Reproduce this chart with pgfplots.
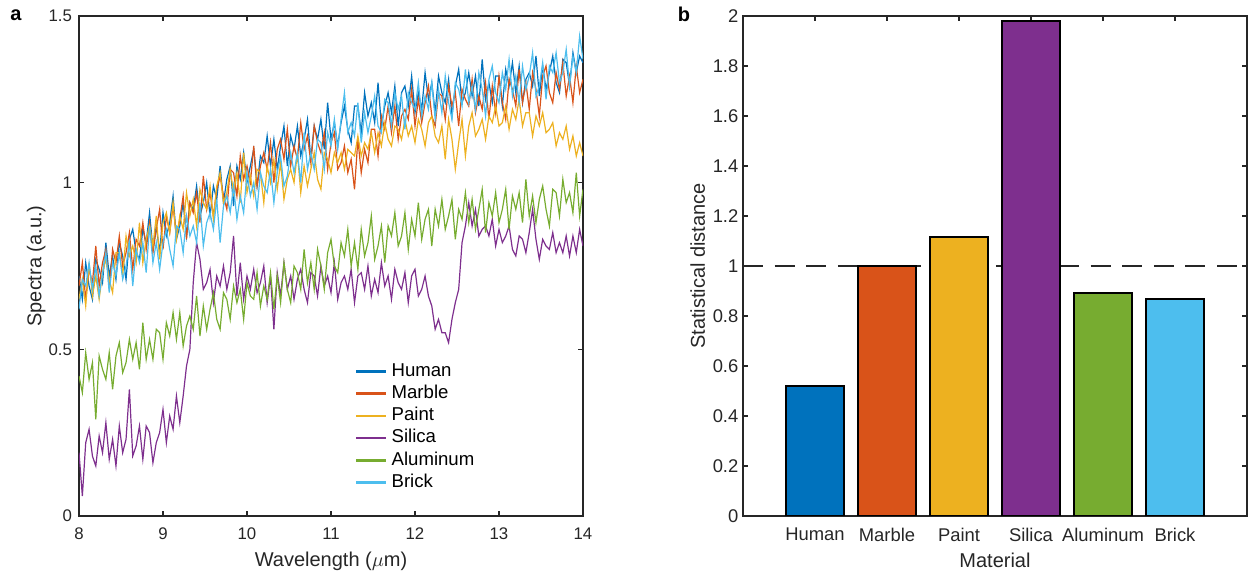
\documentclass[border=0pt]{standalone}
\usepackage{fontspec}
\setmainfont{Liberation Sans}
\usepackage{pgfplots}
\usepackage{pgfplotstable}
\pgfplotsset{compat=1.18}
\definecolor{cH}{HTML}{0072BD}
\definecolor{cM}{HTML}{D95319}
\definecolor{cP}{HTML}{EDB120}
\definecolor{cS}{HTML}{7E2F8E}
\definecolor{cA}{HTML}{77AC30}
\definecolor{cB}{HTML}{4DBEEE}
\definecolor{axgray}{HTML}{262626}

\pgfplotstableread{
x h m p s a b
8.00 0.72 0.69 0.65 0.19 0.42 0.62
8.04 0.65 0.76 0.71 0.06 0.37 0.71
8.08 0.76 0.65 0.63 0.22 0.49 0.69
8.12 0.69 0.74 0.76 0.26 0.41 0.76
8.16 0.65 0.70 0.66 0.18 0.46 0.68
8.20 0.77 0.81 0.72 0.15 0.29 0.75
8.24 0.74 0.69 0.65 0.24 0.48 0.66
8.28 0.70 0.76 0.73 0.19 0.44 0.73
8.32 0.82 0.80 0.77 0.28 0.41 0.79
8.36 0.72 0.68 0.71 0.17 0.49 0.67
8.40 0.78 0.80 0.67 0.23 0.38 0.76
8.44 0.71 0.76 0.79 0.15 0.48 0.72
8.48 0.82 0.84 0.79 0.27 0.52 0.79
8.52 0.78 0.75 0.72 0.19 0.43 0.71
8.56 0.71 0.79 0.84 0.23 0.46 0.75
8.60 0.83 0.85 0.78 0.38 0.53 0.82
8.64 0.86 0.74 0.81 0.18 0.47 0.69
8.68 0.79 0.83 0.76 0.21 0.52 0.80
8.72 0.77 0.81 0.88 0.27 0.44 0.76
8.76 0.86 0.88 0.76 0.17 0.58 0.82
8.80 0.82 0.80 0.83 0.27 0.47 0.73
8.84 0.91 0.88 0.87 0.25 0.53 0.87
8.88 0.80 0.79 0.81 0.16 0.47 0.76
8.92 0.87 0.86 0.90 0.22 0.56 0.82
8.96 0.79 0.92 0.77 0.25 0.55 0.74
9.00 0.91 0.80 0.88 0.32 0.47 0.82
9.04 0.84 0.90 0.91 0.22 0.58 0.86
9.08 0.88 0.85 0.85 0.30 0.54 0.80
9.12 0.96 0.93 0.94 0.26 0.61 0.75
9.16 0.83 0.84 0.83 0.36 0.53 0.87
9.20 0.87 0.89 0.90 0.28 0.61 0.86
9.24 0.94 0.96 0.86 0.36 0.51 0.79
9.28 0.84 0.83 0.97 0.45 0.57 0.90
9.32 0.94 0.94 0.90 0.50 0.60 0.84
9.36 0.92 0.91 0.95 0.70 0.56 0.87
9.40 0.99 0.97 0.87 0.82 0.66 0.82
9.44 0.90 0.88 0.98 0.77 0.54 0.94
9.48 0.94 1.02 0.94 0.68 0.63 0.81
9.52 1.00 0.92 0.92 0.70 0.56 0.88
9.56 0.90 0.97 0.99 0.74 0.62 0.91
9.60 0.99 0.90 0.89 0.64 0.67 0.86
9.64 0.95 0.98 0.99 0.72 0.59 0.95
9.68 1.05 1.02 1.03 0.69 0.56 0.82
9.72 0.94 0.96 0.94 0.75 0.67 0.93
9.76 1.01 0.92 0.97 0.68 0.65 0.96
9.80 1.05 1.04 1.04 0.73 0.59 0.91
9.84 0.93 1.03 0.97 0.84 0.69 0.99
9.88 1.05 0.96 1.03 0.66 0.64 0.89
9.92 1.01 1.08 0.94 0.76 0.68 0.96
9.96 1.09 1.01 1.09 0.65 0.59 0.91
10.00 1.00 1.05 0.97 0.72 0.70 1.03
10.04 1.05 1.00 1.02 0.68 0.66 0.96
10.08 1.10 1.11 0.96 0.74 0.65 1.00
10.12 0.99 0.99 1.04 0.67 0.73 0.92
10.16 1.08 1.05 1.03 0.70 0.63 1.03
10.20 1.06 1.09 0.94 0.75 0.69 0.99
10.24 1.14 1.04 1.05 0.64 0.65 0.97
10.28 1.05 1.12 1.00 0.72 0.73 1.04
10.32 1.13 1.00 1.07 0.56 0.62 0.94
10.36 1.04 1.10 0.98 0.73 0.72 1.03
10.40 1.11 1.13 1.06 0.66 0.64 1.08
10.44 1.17 1.07 0.95 0.76 0.76 0.99
10.48 1.05 1.16 1.01 0.68 0.68 1.02
10.52 1.14 1.05 1.04 0.72 0.64 1.09
10.56 1.10 1.11 1.00 0.65 0.75 1.03
10.60 1.17 1.07 1.09 0.71 0.73 1.09
10.64 1.08 1.18 0.97 0.74 0.68 1.00
10.68 1.13 1.10 1.05 0.68 0.80 1.15
10.72 1.19 1.14 0.99 0.64 0.70 1.04
10.76 1.07 1.06 1.04 0.73 0.76 1.09
10.80 1.17 1.17 1.09 0.72 0.68 1.04
10.84 1.13 1.12 1.01 0.66 0.80 1.13
10.88 1.19 1.09 0.98 0.75 0.75 1.12
10.92 1.10 1.15 1.09 0.69 0.68 1.04
10.96 1.24 1.04 1.07 0.72 0.79 1.15
11.00 1.13 1.12 1.03 0.67 0.83 1.11
11.04 1.18 1.15 1.09 0.76 0.75 1.19
11.08 1.11 1.04 1.06 0.65 0.73 1.10
11.12 1.18 1.06 1.09 0.70 0.82 1.19
11.16 1.23 1.11 1.04 0.72 0.78 1.27
11.20 1.16 1.03 1.10 0.68 0.86 1.15
11.24 1.12 1.07 1.09 0.74 0.75 1.18
11.28 1.23 0.98 1.08 0.64 0.82 1.14
11.32 1.23 1.13 1.14 0.72 0.74 1.24
11.36 1.15 1.03 1.08 0.73 0.86 1.12
11.40 1.27 1.10 1.12 0.68 0.78 1.21
11.44 1.20 1.06 1.10 0.75 0.82 1.15
11.48 1.24 1.16 1.15 0.66 0.90 1.20
11.52 1.18 1.16 1.09 0.71 0.77 1.26
11.56 1.30 1.08 1.15 0.67 0.81 1.17
11.60 1.17 1.20 1.11 0.76 0.87 1.15
11.64 1.23 1.16 1.18 0.69 0.76 1.25
11.68 1.27 1.23 1.13 0.72 0.87 1.24
11.72 1.21 1.15 1.11 0.65 0.84 1.17
11.76 1.29 1.23 1.17 0.74 0.91 1.27
11.80 1.17 1.13 1.16 0.70 0.81 1.22
11.84 1.27 1.20 1.13 0.68 0.84 1.26
11.88 1.29 1.22 1.19 0.73 0.91 1.16
11.92 1.23 1.19 1.14 0.64 0.80 1.27
11.96 1.32 1.28 1.17 0.72 0.89 1.24
12.00 1.21 1.17 1.12 0.74 0.84 1.22
12.04 1.27 1.25 1.19 0.66 0.94 1.30
12.08 1.22 1.18 1.16 0.68 0.83 1.20
12.12 1.33 1.24 1.11 0.72 0.89 1.26
12.16 1.25 1.29 1.18 0.66 0.92 1.22
12.20 1.30 1.20 1.20 0.63 0.81 1.30
12.24 1.21 1.17 1.14 0.56 0.92 1.19
12.28 1.32 1.27 1.12 0.59 0.87 1.28
12.32 1.27 1.26 1.17 0.55 0.95 1.21
12.36 1.24 1.19 1.07 0.55 0.86 1.32
12.40 1.31 1.29 1.19 0.52 0.90 1.24
12.44 1.20 1.23 1.13 0.59 0.95 1.19
12.48 1.29 1.27 1.04 0.64 0.83 1.30
12.52 1.34 1.17 1.12 0.68 0.92 1.28
12.56 1.24 1.28 1.19 0.82 0.89 1.23
12.60 1.27 1.25 1.08 0.87 0.97 1.34
12.64 1.33 1.23 1.17 0.94 0.88 1.24
12.68 1.26 1.31 1.21 0.87 0.95 1.29
12.72 1.32 1.21 1.14 0.92 0.86 1.22
12.76 1.23 1.26 1.16 0.84 0.92 1.33
12.80 1.37 1.22 1.19 0.86 0.98 1.28
12.84 1.25 1.30 1.13 0.87 0.85 1.20
12.88 1.30 1.19 1.20 0.84 0.94 1.31
12.92 1.24 1.29 1.18 0.89 0.90 1.35
12.96 1.32 1.21 1.23 0.81 0.97 1.27
13.00 1.32 1.32 1.17 0.86 0.88 1.24
13.04 1.23 1.24 1.18 0.82 0.92 1.33
13.08 1.34 1.19 1.23 0.84 0.98 1.28
13.12 1.29 1.31 1.16 0.87 0.86 1.37
13.16 1.36 1.28 1.22 0.80 0.96 1.26
13.20 1.27 1.23 1.19 0.78 0.92 1.32
13.24 1.35 1.34 1.25 0.84 0.97 1.24
13.28 1.24 1.24 1.17 0.83 0.88 1.35
13.32 1.31 1.30 1.21 0.79 1.01 1.28
13.36 1.33 1.22 1.21 0.85 0.90 1.32
13.40 1.29 1.33 1.14 0.92 0.96 1.39
13.44 1.38 1.28 1.20 0.83 0.88 1.26
13.48 1.26 1.20 1.17 0.77 0.95 1.29
13.52 1.35 1.32 1.21 0.83 0.99 1.36
13.56 1.28 1.35 1.15 0.81 0.92 1.25
13.60 1.33 1.27 1.16 0.80 0.87 1.35
13.64 1.38 1.24 1.18 0.85 0.98 1.33
13.68 1.30 1.33 1.11 0.79 0.97 1.39
13.72 1.27 1.28 1.15 0.82 0.90 1.30
13.76 1.37 1.36 1.13 0.79 1.01 1.33
13.80 1.36 1.26 1.17 0.84 0.94 1.40
13.84 1.29 1.32 1.10 0.78 0.97 1.29
13.88 1.39 1.24 1.14 0.84 0.91 1.38
13.92 1.33 1.35 1.08 0.79 1.03 1.33
13.96 1.38 1.27 1.12 0.86 0.90 1.44
14.00 1.36 1.31 1.08 0.81 0.98 1.37
}\spectra

\pgfplotsset{
  common/.style={
    scale only axis, width=252pt, height=250pt,
    axis line style={axgray, line width=0.8pt},
    every tick/.style={axgray, line width=0.8pt},
    major tick length=2.5pt,
    tick align=inside,
    tick label style={text=axgray},
    label style={font=\fontsize{10}{12}\selectfont, text=axgray},
    /pgf/number format/assume math mode=true,
    xticklabel style={yshift=-2.6pt},
  }
}

\begin{document}
\begin{tikzpicture}
\useasboundingbox (0,0) rectangle (626.5pt,289pt);
\begin{axis}[common, at={(39.5pt,31pt)}, anchor=south west,
  tick label style={font=\fontsize{8.4}{10}\selectfont},
  xmin=8, xmax=14, ymin=0, ymax=1.5,
  xtick={8,9,10,11,12,13,14}, ytick={0,0.5,1,1.5},
  xlabel={Wavelength ($\mu$m)}, ylabel={Spectra (a.u.)},
  xlabel style={at={(axis description cs:0.5,-0.09)}, anchor=center},
  ylabel style={at={(axis description cs:-0.085,0.5)}, anchor=center},
  legend cell align=left,
  legend image code/.code={\draw[#1, line width=1.3pt] (0pt,0pt) -- (15pt,0pt);},
  legend style={draw=none, fill=none, at={(0.535,0.32)}, anchor=north west,
    font=\fontsize{9.3}{11}\selectfont, row sep=0pt,
    nodes={inner ysep=1.2pt, text height=6.8pt, text depth=1.9pt}},
]
\addplot[cH, line width=0.6pt] table[x=x, y=h]{\spectra}; \addlegendentry{Human}
\addplot[cM, line width=0.6pt] table[x=x, y=m]{\spectra}; \addlegendentry{Marble}
\addplot[cP, line width=0.6pt] table[x=x, y=p]{\spectra}; \addlegendentry{Paint}
\addplot[cS, line width=0.6pt] table[x=x, y=s]{\spectra}; \addlegendentry{Silica}
\addplot[cA, line width=0.6pt] table[x=x, y=a]{\spectra}; \addlegendentry{Aluminum}
\addplot[cB, line width=0.6pt] table[x=x, y=b]{\spectra}; \addlegendentry{Brick}
\end{axis}

\begin{axis}[common, at={(371.5pt,31pt)}, anchor=south west,
  tick label style={font=\fontsize{9.2}{11}\selectfont},
  xmin=0, xmax=7, ymin=0, ymax=2,
  xtick={1,2,3,4,5,6}, xticklabels={Human,Marble,Paint,Silica,Aluminum,Brick},
  ytick={0,0.2,0.4,0.6,0.8,1,1.2,1.4,1.6,1.8,2},
  yticklabel style={xshift=1.2pt},
  xlabel={Material}, ylabel={Statistical distance},
  xlabel style={at={(axis description cs:0.5,-0.088)}, anchor=center},
  ylabel style={at={(axis description cs:-0.09,0.5)}, anchor=center},
]
\addplot[axgray, line width=0.7pt, dash pattern=on 10pt off 5.8pt] coordinates {(0,1) (7,1)};
\addplot[ybar, bar width=0.8, bar shift=0pt, fill=cH, draw=black, line width=0.8pt] coordinates {(1,0.52)};
\addplot[ybar, bar width=0.8, bar shift=0pt, fill=cM, draw=black, line width=0.8pt] coordinates {(2,1.0)};
\addplot[ybar, bar width=0.8, bar shift=0pt, fill=cP, draw=black, line width=0.8pt] coordinates {(3,1.116)};
\addplot[ybar, bar width=0.8, bar shift=0pt, fill=cS, draw=black, line width=0.8pt] coordinates {(4,1.98)};
\addplot[ybar, bar width=0.8, bar shift=0pt, fill=cA, draw=black, line width=0.8pt] coordinates {(5,0.891)};
\addplot[ybar, bar width=0.8, bar shift=0pt, fill=cB, draw=black, line width=0.8pt] coordinates {(6,0.867)};
\end{axis}

\node[font=\bfseries\fontsize{10}{12}\selectfont] at (8pt,281.5pt) {a};
\node[font=\bfseries\fontsize{10}{12}\selectfont] at (342pt,282pt) {b};
\end{tikzpicture}
\end{document}
